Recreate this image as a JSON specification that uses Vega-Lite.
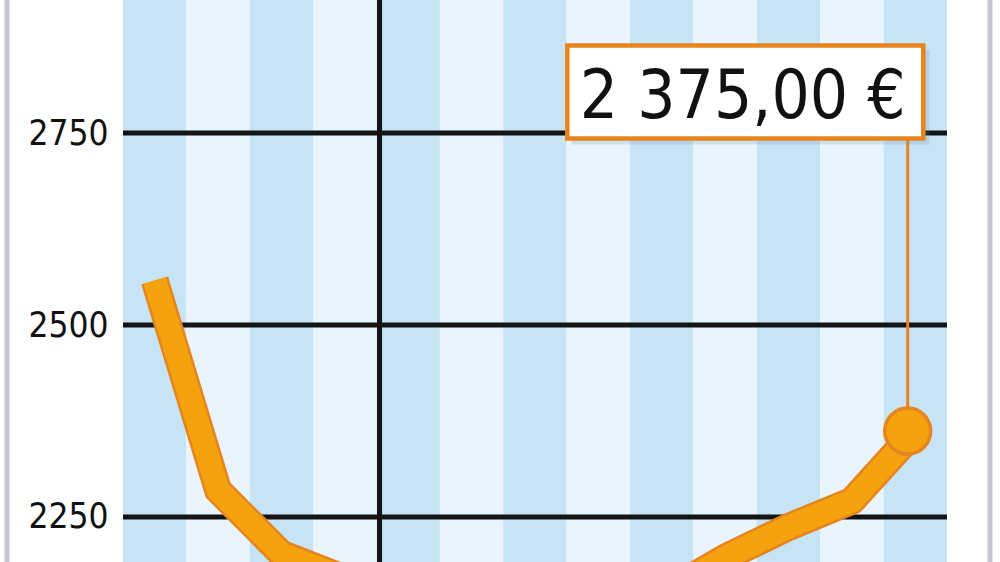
{
  "$schema": "https://vega.github.io/schema/vega-lite/v6.json",
  "width": 824,
  "height": 562,
  "autosize": {"type": "none"},
  "padding": {"left": 123, "right": 53, "top": 0, "bottom": 0},
  "background": "#ffffff",
  "config": {"view": {"stroke": null}},
  "datasets": {
    "monate": [
      {"monat": "2023-09", "preis": 2558},
      {"monat": "2023-10", "preis": 2285},
      {"monat": "2023-11", "preis": 2202},
      {"monat": "2023-12", "preis": 2170},
      {"monat": "2024-01", "preis": 2140},
      {"monat": "2024-02", "preis": 2115},
      {"monat": "2024-03", "preis": 2105},
      {"monat": "2024-04", "preis": 2125},
      {"monat": "2024-05", "preis": 2149},
      {"monat": "2024-06", "preis": 2197},
      {"monat": "2024-07", "preis": 2237},
      {"monat": "2024-08", "preis": 2271},
      {"monat": "2024-09", "preis": 2362, "label": "2 375,00 €"}
    ],
    "raster": [{"wert": 2250}, {"wert": 2500}, {"wert": 2750}]
  },
  "encoding": {
    "x": {
      "field": "monat",
      "type": "ordinal",
      "sort": null,
      "scale": {"type": "band", "paddingInner": 0, "paddingOuter": 0},
      "axis": null
    }
  },
  "layer": [
    {
      "data": {"name": "monate"},
      "transform": [
        {"window": [{"op": "row_number", "as": "n"}]},
        {"calculate": "datum.n % 2", "as": "ungerade"}
      ],
      "mark": {"type": "rect"},
      "encoding": {
        "color": {
          "field": "ungerade",
          "type": "nominal",
          "scale": {"domain": [1, 0], "range": ["#c7e4f5", "#e9f4fc"]},
          "legend": null
        }
      }
    },
    {
      "data": {"name": "raster"},
      "mark": {"type": "rule", "color": "#121416", "strokeWidth": 5},
      "encoding": {
        "x": null,
        "y": {
          "field": "wert",
          "type": "quantitative",
          "scale": {"domain": [2191.4, 2923.2], "nice": false, "zero": false},
          "axis": {
            "values": [2250, 2500, 2750],
            "format": "d",
            "title": null,
            "domain": false,
            "ticks": false,
            "grid": false,
            "labelFont": "DejaVu Sans Condensed",
            "labelFontSize": 35,
            "labelColor": "#111111",
            "labelPadding": 15,
            "labelBaseline": "middle"
          }
        }
      }
    },
    {
      "data": {"name": "monate"},
      "transform": [{"filter": "datum.monat === '2024-01'"}],
      "mark": {"type": "rule", "color": "#121416", "strokeWidth": 5, "xOffset": 3},
      "encoding": {"x": {"field": "monat", "type": "ordinal", "sort": null, "bandPosition": 0}}
    },
    {
      "data": {"name": "monate"},
      "transform": [{"filter": "datum.monat === '2023-09'"}],
      "mark": {"type": "rule", "color": "#c6c6cc", "strokeWidth": 5, "xOffset": -116, "clip": false},
      "encoding": {"x": {"field": "monat", "type": "ordinal", "sort": null, "bandPosition": 0}}
    },
    {
      "data": {"name": "monate"},
      "transform": [{"filter": "datum.label != null"}],
      "mark": {"type": "rule", "color": "#c6c6cc", "strokeWidth": 5, "xOffset": 43, "clip": false},
      "encoding": {"x": {"field": "monat", "type": "ordinal", "sort": null, "bandPosition": 1}}
    },
    {
      "data": {"name": "monate"},
      "mark": {"type": "line", "clip": true, "color": "#e6841f", "strokeWidth": 28, "strokeJoin": "miter", "strokeCap": "butt"},
      "encoding": {
        "x": {"field": "monat", "type": "ordinal", "sort": null, "bandPosition": 0.5},
        "y": {"field": "preis", "type": "quantitative"}
      }
    },
    {
      "data": {"name": "monate"},
      "mark": {"type": "line", "clip": true, "color": "#f4a30f", "strokeWidth": 23, "strokeJoin": "miter", "strokeCap": "butt"},
      "encoding": {
        "x": {"field": "monat", "type": "ordinal", "sort": null, "bandPosition": 0.5},
        "y": {"field": "preis", "type": "quantitative"}
      }
    },
    {
      "data": {"name": "monate"},
      "transform": [{"filter": "datum.label != null"}],
      "mark": {"type": "rule", "color": "#e6841f", "strokeWidth": 3},
      "encoding": {
        "x": {"field": "monat", "type": "ordinal", "sort": null, "bandPosition": 0.38},
        "y": {"field": "preis", "type": "quantitative"},
        "y2": {"datum": 2741}
      }
    },
    {
      "data": {"name": "monate"},
      "transform": [{"filter": "datum.label != null"}],
      "mark": {"type": "point", "shape": "circle", "filled": true, "size": 2100, "fill": "#f4a30f", "stroke": "#e6841f", "strokeWidth": 3.5, "opacity": 1},
      "encoding": {
        "x": {"field": "monat", "type": "ordinal", "sort": null, "bandPosition": 0.38},
        "y": {"field": "preis", "type": "quantitative"}
      }
    },
    {
      "data": {"name": "monate"},
      "transform": [{"filter": "datum.label != null"}],
      "mark": {"type": "rect", "width": 358, "height": 95, "xOffset": -165, "yOffset": -334, "fill": "#5f8aa6", "opacity": 0.2},
      "encoding": {
        "x": {"field": "monat", "type": "ordinal", "sort": null},
        "y": {"field": "preis", "type": "quantitative"}
      }
    },
    {
      "data": {"name": "monate"},
      "transform": [{"filter": "datum.label != null"}],
      "mark": {"type": "rect", "width": 356, "height": 93, "xOffset": -170, "yOffset": -339, "fill": "#ffffff", "stroke": "#e8841c", "strokeWidth": 4.5},
      "encoding": {
        "x": {"field": "monat", "type": "ordinal", "sort": null},
        "y": {"field": "preis", "type": "quantitative"}
      }
    },
    {
      "data": {"name": "monate"},
      "transform": [{"filter": "datum.label != null"}],
      "mark": {"type": "text", "font": "DejaVu Sans Condensed", "fontSize": 67, "color": "#111111", "align": "center", "baseline": "alphabetic", "xOffset": -165, "yOffset": -313},
      "encoding": {
        "x": {"field": "monat", "type": "ordinal", "sort": null, "bandPosition": 0.38},
        "y": {"field": "preis", "type": "quantitative"},
        "text": {"field": "label"}
      }
    }
  ]
}
